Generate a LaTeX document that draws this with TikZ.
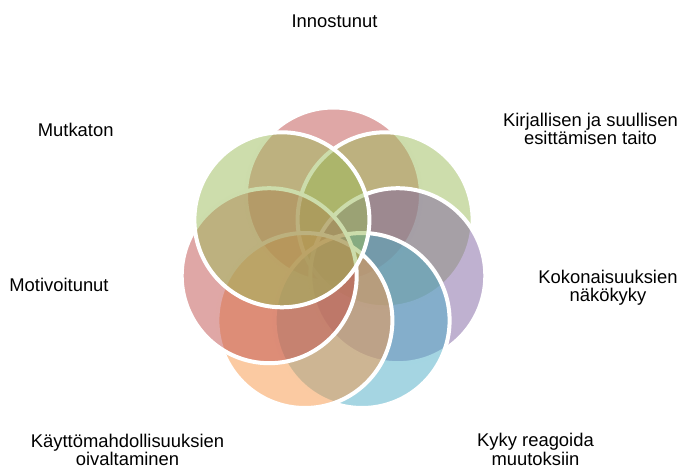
\documentclass[tikz,border=0pt]{standalone}
\usepackage{fontspec}
\setmainfont{Liberation Sans}

\definecolor{accred}{HTML}{C0504D}
\definecolor{accgreen}{HTML}{9BBB59}
\definecolor{accpurple}{HTML}{8064A2}
\definecolor{accblue}{HTML}{4BACC6}
\definecolor{accorange}{HTML}{F79646}

\tikzset{
  ring/.style={circle, draw=white, line width=4pt, fill opacity=0.5,
               minimum size=175pt, inner sep=0pt},
  lbl/.style={align=center, anchor=base, inner sep=0pt,
              font=\fontsize{18.4}{18.4}\selectfont}
}

\begin{document}
\begin{tikzpicture}[x=1pt, y=-1pt]
\useasboundingbox (0,0) rectangle (680,468);

% circles, clockwise from the top
\node [ring, fill=accred]    (c1) at (333.5,195.0) {};
\node [ring, fill=accgreen]  (c2) at (385.1,219.8) {};
\node [ring, fill=accpurple] (c3) at (397.8,275.7) {};
\node [ring, fill=accblue]   (c4) at (362.1,320.5) {};
\node [ring, fill=accorange] (c5) at (304.9,320.5) {};
\node [ring, fill=accred]    (c6) at (269.2,275.7) {};
\node [ring, fill=accgreen]  (c7) at (281.9,219.8) {};

% labels (base = last line)
\node [lbl] (t1) at (334.5,28.0)  {Innostunut};
\node [lbl] (t2) at (590.5,145.0) {Kirjallisen ja suullisen\\esittämisen taito};
\node [lbl] (t3) at (608.0,301.7) {Kokonaisuuksien\\näkökyky};
\node [lbl] (t4) at (535.5,465.0) {Kyky reagoida\\muutoksiin};
\node [lbl] (t5) at (127.5,465.5) {Käyttömahdollisuuksien\\oivaltaminen};
\node [lbl] (t6) at (59.0,291.7)  {Motivoitunut};
\node [lbl] (t7) at (75.7,137.0)  {Mutkaton};

\end{tikzpicture}
\end{document}
